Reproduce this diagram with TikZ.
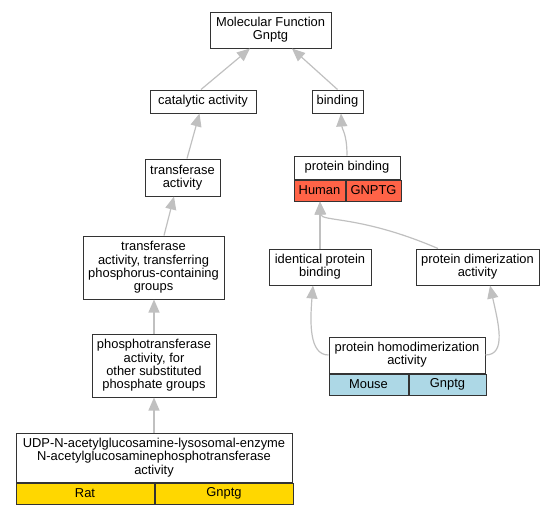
\documentclass[tikz,border=0pt]{standalone}
\usepackage{fontspec}
\setmainfont{Liberation Sans}
\usetikzlibrary{positioning,arrows.meta}
\definecolor{edgegray}{RGB}{192,192,192}
\definecolor{human}{RGB}{255,99,71}
\definecolor{mouse}{RGB}{173,216,230}
\definecolor{rat}{RGB}{255,215,0}
\begin{document}
\begin{tikzpicture}[x=1pt,y=-1pt,
    font=\fontsize{12.9}{13.3}\selectfont,
    term/.style={draw=black!80,line width=1pt,inner sep=0pt,align=center,fill=white},
    cell/.style={draw=black!80,line width=1pt,inner sep=0pt,minimum height=21pt},
    link/.style={-{Triangle[length=13pt,width=11pt]},draw=edgegray,line width=1.2pt}]
\useasboundingbox (0,0) rectangle (555,515);

\node[term,minimum width=121pt,minimum height=36pt] (mf)   at (270.5,30)  {Molecular Function\\Gnptg};
\node[term,minimum width=106pt,minimum height=23pt] (cat)  at (203,101.5) {catalytic activity};
\node[term,minimum width=51pt,minimum height=23pt]  (bind) at (337.5,101.5) {binding};
\node[term,minimum width=75pt,minimum height=37pt]  (trans) at (182.5,177.5) {transferase\\activity};
\node[term,minimum width=141pt,minimum height=63pt] (ttp)  at (153.5,267.5) {transferase\\activity, transferring\\phosphorus-containing\\groups};
\node[term,minimum width=124pt,minimum height=63pt] (pho)  at (154,365.5) {phosphotransferase\\activity, for\\other substituted\\phosphate groups};
\node[term,minimum width=276pt,minimum height=49pt] (udp)  at (154,457.5) {UDP-N-acetylglucosamine-lysosomal-enzyme\\N-acetylglucosaminephosphotransferase\\activity};
\node[cell,fill=rat,minimum width=138pt,below right=0pt and 0pt of udp.south west] (rat) {Rat};
\node[cell,fill=rat,minimum width=138pt,right=0pt of rat] (ratgene) {Gnptg};

\node[term,minimum width=106pt,minimum height=23pt] (pb)   at (347,167.5) {protein binding};
\node[cell,fill=human,minimum width=51pt,below right=0pt and 0pt of pb.south west] (human) {Human};
\node[cell,fill=human,minimum width=55pt,right=0pt of human] (humangene) {GNPTG};
\node[term,minimum width=102pt,minimum height=36pt] (ipb)  at (320,267)   {identical protein\\binding};
\node[term,minimum width=123pt,minimum height=36pt] (pda)  at (477.5,267) {protein dimerization\\activity};
\node[term,minimum width=156pt,minimum height=36pt] (phd)  at (407,355)   {protein homodimerization\\activity};
\node[cell,fill=mouse,minimum width=79pt,below right=0pt and 0pt of phd.south west] (mouse) {Mouse};
\node[cell,fill=mouse,minimum width=77pt,right=0pt of mouse] (mousegene) {Gnptg};

\draw[link] ([xshift=-2pt]cat.north) -- ([xshift=-20.5pt]mf.south);
\draw[link] (bind.north) -- ([xshift=21.5pt]mf.south);
\draw[link] ([xshift=4.5pt]trans.north) -- ([xshift=-3.5pt]cat.south);
\draw[link] ([xshift=10.5pt]ttp.north) -- ([xshift=-8.5pt]trans.south);
\draw[link] (pho.north) -- (pho.north |- ttp.south);
\draw[link] (udp.north) -- (pho.south);
\draw[link] (pb.north) .. controls +(0,-22) and +(1,16) .. ([xshift=3.5pt]bind.south);
\draw[link] (ipb.north) -- (ipb.north |- human.south);
\draw[link] ([xshift=-39.5pt]pda.north) .. controls (360,215) and (321,222) .. ([xshift=0.5pt]human.south);
\draw[link] (phd.west) .. controls (309,355) and (310,322) .. ([xshift=-7pt]ipb.south);
\draw[link] (phd.east) .. controls (507,355) and (498,322) .. ([xshift=12.5pt]pda.south);
\end{tikzpicture}
\end{document}
